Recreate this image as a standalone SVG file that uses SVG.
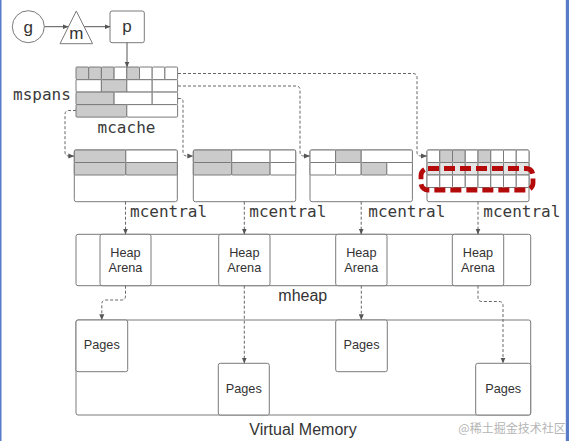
<svg xmlns="http://www.w3.org/2000/svg" width="569" height="441" viewBox="0 0 569 441">
<defs>
<marker id="ah" markerWidth="6" markerHeight="6" refX="5.5" refY="3" orient="auto" markerUnits="userSpaceOnUse"><path d="M0,0.5 L6,3 L0,5.5 z" fill="#555"/></marker>
</defs>
<style>
.box{fill:#fff;stroke:#7a7a7a;stroke-width:1}
.gy{fill:#cbcbcb;stroke:#7a7a7a;stroke-width:1}
.lg{fill:#e4e4e4;stroke:#7a7a7a;stroke-width:1}
.wh{fill:#fff;stroke:#7a7a7a;stroke-width:1}
.dash{fill:none;stroke:#666;stroke-width:1;stroke-dasharray:3 2}
.solid{fill:none;stroke:#555;stroke-width:1}
.mono{font-family:"DejaVu Sans Mono","Liberation Mono",monospace;font-size:16px;fill:#3a3a3a}
.sans{font-family:"Liberation Sans",Arial,sans-serif;fill:#333}
.red{fill:none;stroke:#b40a0a;stroke-width:4.8;stroke-dasharray:11 5}
</style>
<rect x="0" y="0" width="569" height="441" fill="#fff"/>
<rect x="0" y="0" width="1.5" height="441" fill="#5a7cc8"/>
<rect x="565.8" y="0" width="3.2" height="441" fill="#5a7cc8"/>

<g id="g-node">
<circle cx="28.3" cy="26.7" r="16" class="box"/>
<text x="28.3" y="32.5" class="sans" font-size="17" text-anchor="middle">g</text>
</g>
<g id="m-node">
<polygon points="76.3,11 60,43.7 92.6,43.7" class="box"/>
<text x="76.3" y="39.3" class="sans" font-size="17" text-anchor="middle">m</text>
</g>
<g id="p-node">
<rect x="110" y="11" width="34.3" height="31.7" rx="2" class="box"/>
<text x="127" y="31.7" class="sans" font-size="17" text-anchor="middle">p</text>
</g>

<g id="mcache">
<text x="13" y="100" class="mono">mspans</text>
<text x="126.5" y="132.7" class="mono" text-anchor="middle">mcache</text>
<rect x="76" y="67" width="12.7" height="12.7" rx="1" class="gy"/>
<rect x="88.7" y="67" width="12.7" height="12.7" rx="1" class="gy"/>
<rect x="101.4" y="67" width="12.7" height="12.7" rx="1" class="gy"/>
<rect x="114.1" y="67" width="12.7" height="12.7" rx="1" class="wh"/>
<rect x="126.8" y="67" width="12.7" height="12.7" rx="1" class="gy"/>
<rect x="139.5" y="67" width="12.7" height="12.7" rx="1" class="wh"/>
<rect x="152.2" y="67" width="12.7" height="12.7" rx="1" class="wh"/>
<rect x="164.9" y="67" width="12.7" height="12.7" rx="1" class="wh"/>
<rect x="76" y="79.7" width="25.4" height="12.4" rx="1" class="wh"/>
<rect x="101.4" y="79.7" width="25.4" height="12.4" rx="1" class="gy"/>
<rect x="126.8" y="79.7" width="25.4" height="12.4" rx="1" class="wh"/>
<rect x="152.2" y="79.7" width="25.4" height="12.4" rx="1" class="wh"/>
<rect x="76" y="92.1" width="38.1" height="12.5" rx="1" class="gy"/>
<rect x="114.1" y="92.1" width="38.1" height="12.5" rx="1" class="wh"/>
<rect x="152.2" y="92.1" width="25.4" height="12.5" rx="1" class="wh"/>
<rect x="76" y="104.6" width="50.8" height="12.5" rx="1" class="gy"/>
<rect x="126.8" y="104.6" width="50.8" height="12.5" rx="1" class="wh"/>
</g>

<g id="mcentral-1">
<rect x="74.3" y="150" width="103" height="51.7" rx="2" class="box"/>
<rect x="74.3" y="150" width="51.5" height="12.5" rx="1" class="gy"/>
<rect x="125.8" y="150" width="51.5" height="12.5" rx="1" class="wh"/>
<rect x="74.3" y="162.5" width="51.5" height="12.5" rx="1" class="gy"/>
<rect x="125.8" y="162.5" width="51.5" height="12.5" rx="1" class="gy"/>
<text x="130" y="217" class="mono">mcentral</text>
</g>
<g id="mcentral-2">
<rect x="193.3" y="150" width="102.4" height="51.7" rx="2" class="box"/>
<rect x="193.3" y="150" width="38.4" height="12.5" rx="1" class="gy"/>
<rect x="231.7" y="150" width="38.4" height="12.5" rx="1" class="wh"/>
<rect x="270.1" y="150" width="25.6" height="12.5" rx="1" class="wh"/>
<rect x="193.3" y="162.5" width="38.4" height="12.5" rx="1" class="gy"/>
<rect x="231.7" y="162.5" width="38.4" height="12.5" rx="1" class="gy"/>
<rect x="270.1" y="162.5" width="25.6" height="12.5" rx="1" class="wh"/>
<text x="249.3" y="217" class="mono">mcentral</text>
</g>
<g id="mcentral-3">
<rect x="310" y="150" width="102.4" height="51.7" rx="2" class="box"/>
<rect x="310" y="150" width="25.6" height="12.5" rx="1" class="wh"/>
<rect x="335.6" y="150" width="25.6" height="12.5" rx="1" class="gy"/>
<rect x="361.2" y="150" width="51.2" height="12.5" rx="1" class="wh"/>
<rect x="310" y="162.5" width="25.6" height="12.5" rx="1" class="wh"/>
<rect x="335.6" y="162.5" width="25.6" height="12.5" rx="1" class="wh"/>
<rect x="361.2" y="162.5" width="25.6" height="12.5" rx="1" class="gy"/>
<rect x="386.8" y="162.5" width="25.6" height="12.5" rx="1" class="wh"/>
<text x="368.3" y="217" class="mono">mcentral</text>
</g>
<g id="mcentral-4">
<rect x="427" y="150" width="102" height="51.7" rx="2" class="box"/>
<rect x="427" y="150" width="12.75" height="12.5" rx="1" class="wh"/>
<rect x="439.75" y="150" width="12.75" height="12.5" rx="1" class="gy"/>
<rect x="452.5" y="150" width="12.75" height="12.5" rx="1" class="gy"/>
<rect x="465.25" y="150" width="12.75" height="12.5" rx="1" class="wh"/>
<rect x="478" y="150" width="12.75" height="12.5" rx="1" class="gy"/>
<rect x="490.75" y="150" width="12.75" height="12.5" rx="1" class="wh"/>
<rect x="503.5" y="150" width="12.75" height="12.5" rx="1" class="wh"/>
<rect x="516.25" y="150" width="12.75" height="12.5" rx="1" class="wh"/>
<rect x="427" y="162.5" width="12.75" height="12.5" rx="1" class="lg"/>
<rect x="439.75" y="162.5" width="12.75" height="12.5" rx="1" class="lg"/>
<rect x="452.5" y="162.5" width="12.75" height="12.5" rx="1" class="lg"/>
<rect x="465.25" y="162.5" width="12.75" height="12.5" rx="1" class="lg"/>
<rect x="478" y="162.5" width="12.75" height="12.5" rx="1" class="lg"/>
<rect x="490.75" y="162.5" width="12.75" height="12.5" rx="1" class="lg"/>
<rect x="503.5" y="162.5" width="12.75" height="12.5" rx="1" class="lg"/>
<rect x="516.25" y="162.5" width="12.75" height="12.5" rx="1" class="lg"/>
<rect x="427" y="175" width="12.75" height="12.5" rx="1" class="wh"/>
<rect x="439.75" y="175" width="12.75" height="12.5" rx="1" class="wh"/>
<rect x="452.5" y="175" width="12.75" height="12.5" rx="1" class="wh"/>
<rect x="465.25" y="175" width="12.75" height="12.5" rx="1" class="wh"/>
<rect x="478" y="175" width="12.75" height="12.5" rx="1" class="wh"/>
<rect x="490.75" y="175" width="12.75" height="12.5" rx="1" class="wh"/>
<rect x="503.5" y="175" width="12.75" height="12.5" rx="1" class="wh"/>
<rect x="516.25" y="175" width="12.75" height="12.5" rx="1" class="wh"/>
<rect x="421" y="168.5" width="112" height="21.5" rx="7" class="red"/>
<text x="483.3" y="217" class="mono">mcentral</text>
</g>

<g id="mheap">
<rect x="76" y="234.3" width="454.7" height="51.4" rx="2" class="box"/>
<text x="278.3" y="301" class="sans" font-size="16">mheap</text>
</g>
<g id="arena-1">
<rect x="100" y="234.3" width="51" height="51.4" rx="2" class="box"/>
<text x="125.5" y="256.7" class="sans" font-size="12.7" text-anchor="middle">Heap</text>
<text x="125.5" y="272.3" class="sans" font-size="12.7" text-anchor="middle">Arena</text>
</g>
<g id="arena-2">
<rect x="218.7" y="234.3" width="51.3" height="51.4" rx="2" class="box"/>
<text x="244.3" y="256.7" class="sans" font-size="12.7" text-anchor="middle">Heap</text>
<text x="244.3" y="272.3" class="sans" font-size="12.7" text-anchor="middle">Arena</text>
</g>
<g id="arena-3">
<rect x="335.7" y="234.3" width="51.3" height="51.4" rx="2" class="box"/>
<text x="361.3" y="256.7" class="sans" font-size="12.7" text-anchor="middle">Heap</text>
<text x="361.3" y="272.3" class="sans" font-size="12.7" text-anchor="middle">Arena</text>
</g>
<g id="arena-4">
<rect x="452.3" y="234.3" width="51.4" height="51.4" rx="2" class="box"/>
<text x="478" y="256.7" class="sans" font-size="12.7" text-anchor="middle">Heap</text>
<text x="478" y="272.3" class="sans" font-size="12.7" text-anchor="middle">Arena</text>
</g>

<g id="virtual-memory">
<rect x="76" y="320" width="454.7" height="95" rx="2" class="box"/>
<text x="303" y="435" class="sans" font-size="16" text-anchor="middle">Virtual Memory</text>
</g>
<g id="pages-1">
<rect x="76" y="320" width="51.7" height="51.7" rx="2" class="box"/>
<text x="101.8" y="349.3" class="sans" font-size="12.7" text-anchor="middle">Pages</text>
</g>
<g id="pages-2">
<rect x="218.3" y="363.3" width="51" height="51.7" rx="2" class="box"/>
<text x="243.8" y="393.3" class="sans" font-size="12.7" text-anchor="middle">Pages</text>
</g>
<g id="pages-3">
<rect x="335.7" y="320" width="51.6" height="51.7" rx="2" class="box"/>
<text x="361.5" y="349.3" class="sans" font-size="12.7" text-anchor="middle">Pages</text>
</g>
<g id="pages-4">
<rect x="475.7" y="363.3" width="55" height="51.7" rx="2" class="box"/>
<text x="503.2" y="393.3" class="sans" font-size="12.7" text-anchor="middle">Pages</text>
</g>

<g id="connectors">
<path d="M44.5,26.7 H68" class="solid" marker-end="url(#ah)"/>
<path d="M84.5,26.7 H110" class="solid" marker-end="url(#ah)"/>
<path d="M127,42.7 V67" class="solid" marker-end="url(#ah)"/>
<path d="M178,73.5 H413 Q417,73.5 417,77.5 V152 Q417,156 421,156 H426.5" class="dash" marker-end="url(#ah)"/>
<path d="M178,86 H296 Q300,86 300,90 V152 Q300,156 304,156 H309.5" class="dash" marker-end="url(#ah)"/>
<path d="M178,98.5 H180 Q183,98.5 183,101.5 V152 Q183,156 187,156 H192.8" class="dash" marker-end="url(#ah)"/>
<path d="M76,110.5 H69 Q65,110.5 65,114.5 V152 Q65,156 69,156 H73.8" class="dash" marker-end="url(#ah)"/>
<path d="M125.5,201.7 V234" class="dash" marker-end="url(#ah)"/>
<path d="M244.3,201.7 V234" class="dash" marker-end="url(#ah)"/>
<path d="M361.2,201.7 V234" class="dash" marker-end="url(#ah)"/>
<path d="M478,201.7 V234" class="dash" marker-end="url(#ah)"/>
<path d="M125.5,285.7 V296 Q125.5,300 121.5,300 H105.8 Q101.8,300 101.8,304 V319.7" class="dash" marker-end="url(#ah)"/>
<path d="M244.3,285.7 V363" class="dash" marker-end="url(#ah)"/>
<path d="M361.3,285.7 V319.7" class="dash" marker-end="url(#ah)"/>
<path d="M478,285.7 V297.5 Q478,301.5 482,301.5 H499 Q503,301.5 503,305.5 V363" class="dash" marker-end="url(#ah)"/>
</g>

<text x="458.3" y="432.7" font-family="'Noto Sans CJK SC',sans-serif" font-size="12" fill="#b5b5b5">@稀土掘金技术社区</text>
</svg>
